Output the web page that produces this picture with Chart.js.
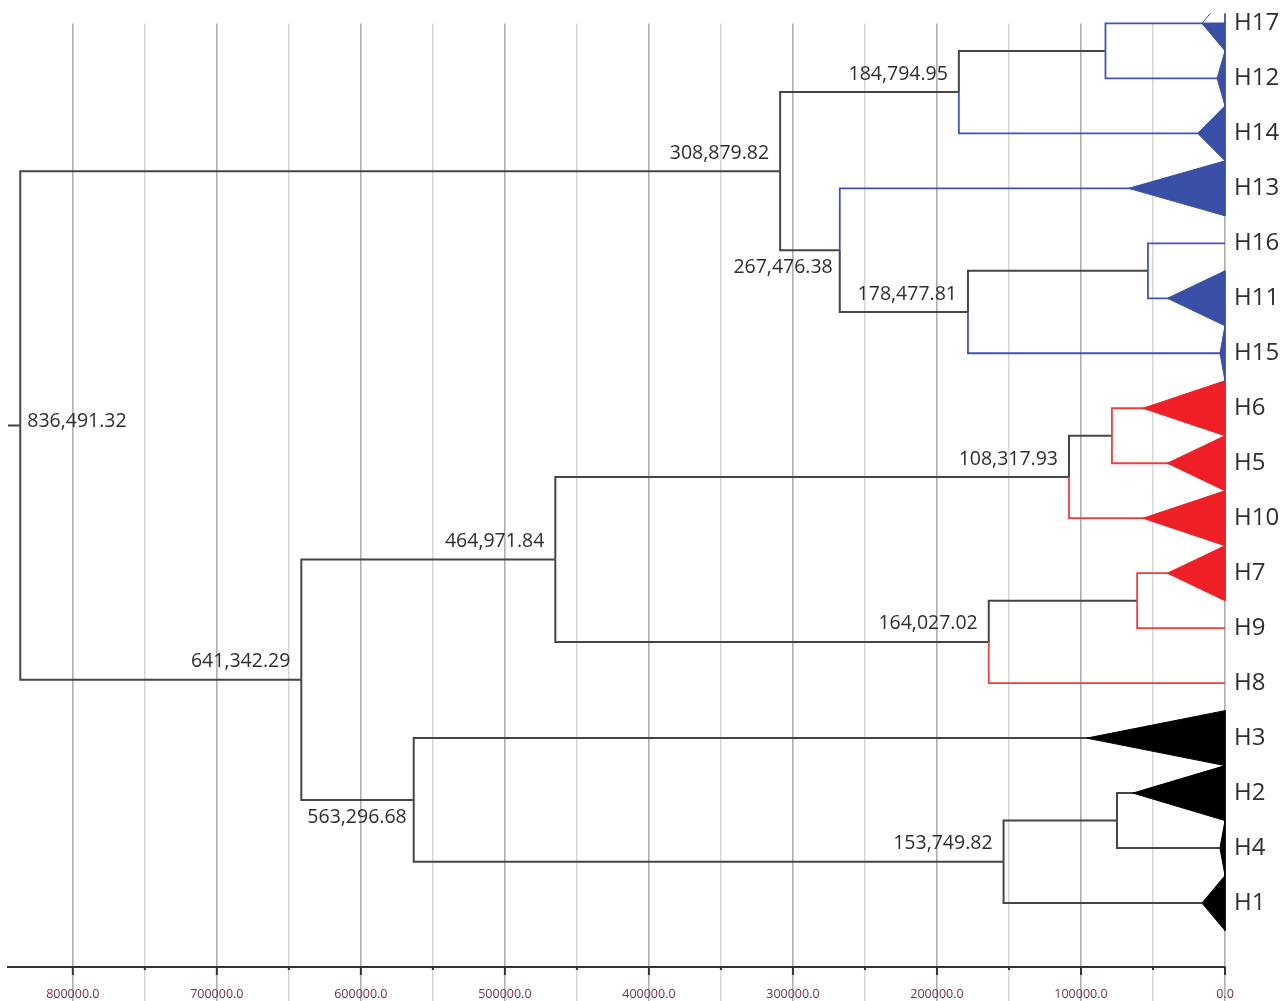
<!DOCTYPE html>
<html>
<head>
<meta charset="utf-8">
<script src="https://cdn.jsdelivr.net/npm/chart.js@4.4.1/dist/chart.umd.min.js"></script>
<style>
html,body{margin:0;padding:0;background:#fff;}
#wrap{width:1285px;height:1001px;position:relative;}
</style>
</head>
<body>
<div id="wrap"><canvas id="c"></canvas></div>
<script>
// ---------- DATA ----------
const leafNames = ['H17','H12','H14','H13','H16','H11','H15','H6','H5','H10','H7','H9','H8','H3','H2','H4','H1'];
const leafCluster = ['blue','blue','blue','blue','blue','blue','blue','red','red','red','red','red','red','black','black','black','black'];
// depth of each collapsed-cluster triangle (distance units)
const leafTriangleDepth = [16000,5500,19000,67000,0,40000,3500,57000,40000,57000,40000,0,0,96000,64000,3500,16000];

const nodeNames   = ['C','B','F','E','D','A','J','I','L','K','H','O','N','M','G','R'];
const nodeLeft    = ['H17','C','H16','F','H13','B','H6','J','H7','L','I','H2','O','H3','H','A'];
const nodeRight   = ['H12','H14','H11','H15','E','D','H5','H10','H9','H8','K','H4','H1','N','M','G'];
const nodeHeights = [83000,184794.95,53500,178477.81,267476.38,308879.82,78500,108317.93,61000,164027.02,464971.84,75000,153749.82,563296.68,641342.29,836491.32];
const nodeLabels  = ['','184,794.95','','178,477.81','267,476.38','308,879.82','','108,317.93','','164,027.02','464,971.84','','153,749.82','563,296.68','641,342.29','836,491.32'];

const xTickValues = [0,50000,100000,150000,200000,250000,300000,350000,400000,450000,500000,550000,600000,650000,700000,750000,800000];
const xMax = 845000;

// ---------- STYLE ----------
const lineColor = {blue:'#4352b8', red:'#f23d3d', black:'#454545'};
const fillColor = {blue:'#3a4fa6', red:'#ee1f26', black:'#000000'};
const labelsBelow = ['D','M'];

// ---------- GEOMETRY FROM TREE ----------
const pos = {};
leafNames.forEach((n,i)=>{ pos[n] = {x:0, y:i, leaf:true, cluster:leafCluster[i]}; });
nodeNames.forEach((n,i)=>{
  const l = pos[nodeLeft[i]], r = pos[nodeRight[i]];
  pos[n] = {x:nodeHeights[i], y:(l.y + r.y)/2, leaf:false, label:nodeLabels[i]};
});

const datasets = [];
const common = {showLine:true, pointRadius:0, pointHoverRadius:0, tension:0, clip:10, fill:false};

// triangles first (Chart.js paints dataset 0 on top)
leafNames.forEach((n,i)=>{
  const d = leafTriangleDepth[i];
  if (!d) return;
  const c = fillColor[leafCluster[i]];
  datasets.push(Object.assign({}, common, {
    data:[{x:d,y:i},{x:0,y:i-0.5},{x:0,y:i+0.5},{x:d,y:i}],
    borderColor:c, borderWidth:1, backgroundColor:c, fill:'shape'
  }));
});

const segs = [];
nodeNames.forEach((n,i)=>{
  [nodeLeft[i], nodeRight[i]].forEach(c=>{
    const p = pos[n], ch = pos[c];
    const col = ch.leaf ? lineColor[ch.cluster] : lineColor.black;
    const w = (ch.leaf && ch.cluster!=='black') ? 1.8 : 2;
    segs.push({data:[{x:p.x,y:p.y},{x:p.x,y:ch.y},{x:ch.x,y:ch.y}], borderColor:col, borderWidth:w, black: col===lineColor.black});
  });
});
segs.filter(s=>!s.black).concat(segs.filter(s=>s.black)).forEach(s=>{
  datasets.push(Object.assign({}, common, {data:s.data, borderColor:s.borderColor, borderWidth:s.borderWidth}));
});
// root stub
datasets.push(Object.assign({}, common, {data:[{x:xMax,y:pos.R.y},{x:pos.R.x,y:pos.R.y}], borderColor:lineColor.black, borderWidth:2}));

// ---------- PLUGINS ----------
const deco = {
  id:'deco',
  afterDraw(chart){
    const ctx = chart.ctx, xs = chart.scales.x, ys = chart.scales.y;
    const axisY = chart.chartArea.bottom;
    ctx.save();
    // axis tick marks
    ctx.strokeStyle = '#333'; ctx.lineWidth = 2;
    xTickValues.forEach(v=>{
      const px = xs.getPixelForValue(v);
      const len = (v % 100000 === 0) ? 8 : 3;
      ctx.beginPath(); ctx.moveTo(px, axisY); ctx.lineTo(px, axisY+len); ctx.stroke();
    });
    // node labels
    ctx.fillStyle = '#2e2e2e';
    ctx.font = '19.5px "Open Sans"';
    ctx.textBaseline = 'middle';
    nodeNames.forEach(n=>{
      const p = pos[n];
      if (!p.label) return;
      const px = xs.getPixelForValue(p.x), py = ys.getPixelForValue(p.y);
      if (n === 'R') {
        ctx.textAlign = 'left';
        ctx.fillText(p.label, px + 7, py - 4);
      } else if (labelsBelow.includes(n)) {
        ctx.textAlign = 'right';
        ctx.fillText(p.label, px - 7, py + 17);
      } else {
        ctx.textAlign = 'right';
        ctx.fillText(p.label, px - 11, py - 18);
      }
    });
    ctx.restore();
  }
};

new Chart(document.getElementById('c'), {
  type:'scatter',
  data:{datasets},
  plugins:[deco],
  options:{
    responsive:true, maintainAspectRatio:false, animation:false,
    layout:{padding:{left:8, top:22, right:0, bottom:0}},
    plugins:{legend:{display:false}, tooltip:{enabled:false}},
    events:[],
    scales:{
      x:{
        type:'linear', reverse:true, min:0, max:xMax,
        afterBuildTicks(s){ s.ticks = xTickValues.map(v=>({value:v})); },
        afterFit(s){ s.height = 34; },
        ticks:{
          autoSkip:false, maxRotation:0, padding:-14,
          color:'#6e3050', font:{size:12.5, family:'"Open Sans"'},
          callback:(v)=> (v % 100000 === 0) ? Number(v).toFixed(1) : ''
        },
        grid:{
          drawTicks:true, tickLength:34,
          color:(c)=> (c.tick && c.tick.value % 100000 === 0) ? '#aeaeae' : '#d8d8d8',
          tickColor:(c)=> (c.tick && c.tick.value % 100000 === 0) ? '#aeaeae' : '#d8d8d8',
          lineWidth:1.6, tickWidth:1.6
        },
        border:{display:true, color:'#333', width:2}
      },
      y:{
        type:'linear', position:'right', reverse:true, min:0, max:17.163,
        afterBuildTicks(s){ s.ticks = leafNames.map((n,i)=>({value:i})); },
        afterFit(s){ s.width = 60; },
        ticks:{
          autoSkip:false, padding:9, color:'#2e2e2e',
          font:{size:24, family:'"Open Sans"'},
          callback:(v)=> leafNames[Math.round(v)] || ''
        },
        grid:{display:false, drawTicks:false},
        border:{display:false}
      }
    }
  }
});
</script>
</body>
</html>
